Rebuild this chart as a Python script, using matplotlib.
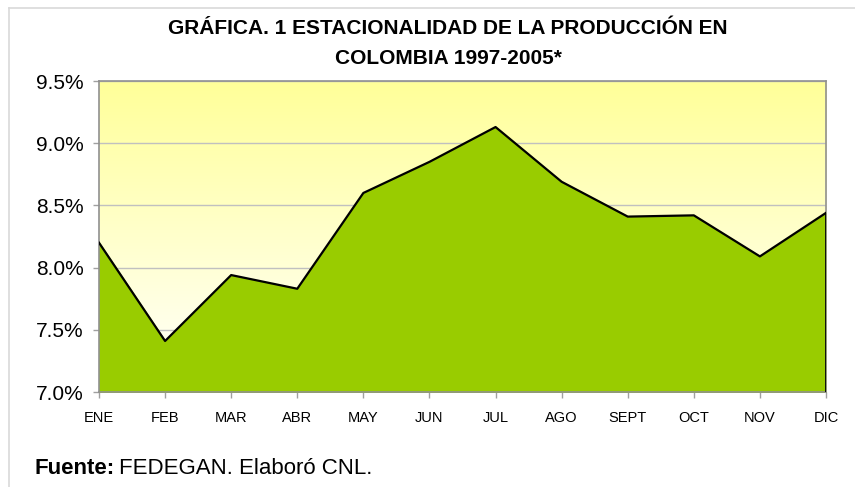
import numpy as np
import matplotlib.pyplot as plt
from matplotlib.lines import Line2D
from matplotlib.colors import LinearSegmentedColormap

meses = ["ENE", "FEB", "MAR", "ABR", "MAY", "JUN", "JUL", "AGO", "SEPT", "OCT", "NOV", "DIC"]
produccion = [8.20, 7.41, 7.94, 7.83, 8.60, 8.85, 9.13, 8.69, 8.41, 8.42, 8.09, 8.44]
yticks = [7.0, 7.5, 8.0, 8.5, 9.0, 9.5]

plt.rcParams['font.family'] = ['Liberation Sans', 'DejaVu Sans']

fig = plt.figure(figsize=(8.55, 4.87), dpi=100)
ax = fig.add_axes([99/855, 95/487, 727/855, 311/487])

x = np.arange(len(meses))

# fondo degradado amarillo -> blanco
grad = LinearSegmentedColormap.from_list("bg", ["#FFFFFF", "#FFFF99"])
ax.imshow(np.linspace(0, 1, 256).reshape(-1, 1), cmap=grad, origin="lower",
          aspect="auto", extent=[0, 1, 0, 1], transform=ax.transAxes, zorder=0)

ax.fill_between(x, 7.0, produccion, color="#99CC00", zorder=2)
ax.plot(x, produccion, color="black", lw=1.6, zorder=3)
ax.plot([x[-1], x[-1]], [7.0, produccion[-1]], color="black", lw=2, zorder=3)

ax.set_xlim(0, len(meses) - 1)
ax.set_ylim(7.0, 9.5)
ax.set_yticks(yticks)
ax.set_yticklabels([f"{v:.1f}%" for v in yticks], fontsize=15)
ax.set_xticks(x)
ax.set_xticklabels(meses, fontsize=10.5)
ax.yaxis.grid(True, color="#C0C0C0", lw=1, zorder=1)
ax.set_axisbelow(True)
ax.tick_params(axis="both", colors="#A0A0A0", length=4, width=1, labelcolor="black")
ax.tick_params(axis="x", pad=10)
ax.tick_params(axis="y", pad=7)
for s in ax.spines.values():
    s.set_color("#909090")
    s.set_linewidth(1.2)

fig.text(448/855, 1 - 28/487, "GRÁFICA. 1 ESTACIONALIDAD DE LA PRODUCCIÓN EN",
         ha="center", va="center", fontsize=15, fontweight="bold")
fig.text(448/855, 1 - 58/487, "COLOMBIA 1997-2005*",
         ha="center", va="center", fontsize=15, fontweight="bold")

# fuente: parte en negrita y parte normal, una tras otra
t = fig.text(35/855, 1 - 468/487, "Fuente:", ha="left", va="center",
             fontsize=16, fontweight="bold")
fig.canvas.draw()
bb = t.get_window_extent().transformed(fig.transFigure.inverted())
fig.text(bb.x1 + 4/855, 1 - 468/487, "FEDEGAN. Elaboró CNL.", ha="left", va="center",
         fontsize=16)

# borde del area del grafico
fig.add_artist(Line2D([9/855, 9/855], [0, 1 - 8/487], color="#D9D9D9", lw=1.2,
                      transform=fig.transFigure))
fig.add_artist(Line2D([9/855, 1], [1 - 8/487, 1 - 8/487], color="#D9D9D9", lw=1.2,
                      transform=fig.transFigure))

fig.savefig("out.png", dpi=100)
